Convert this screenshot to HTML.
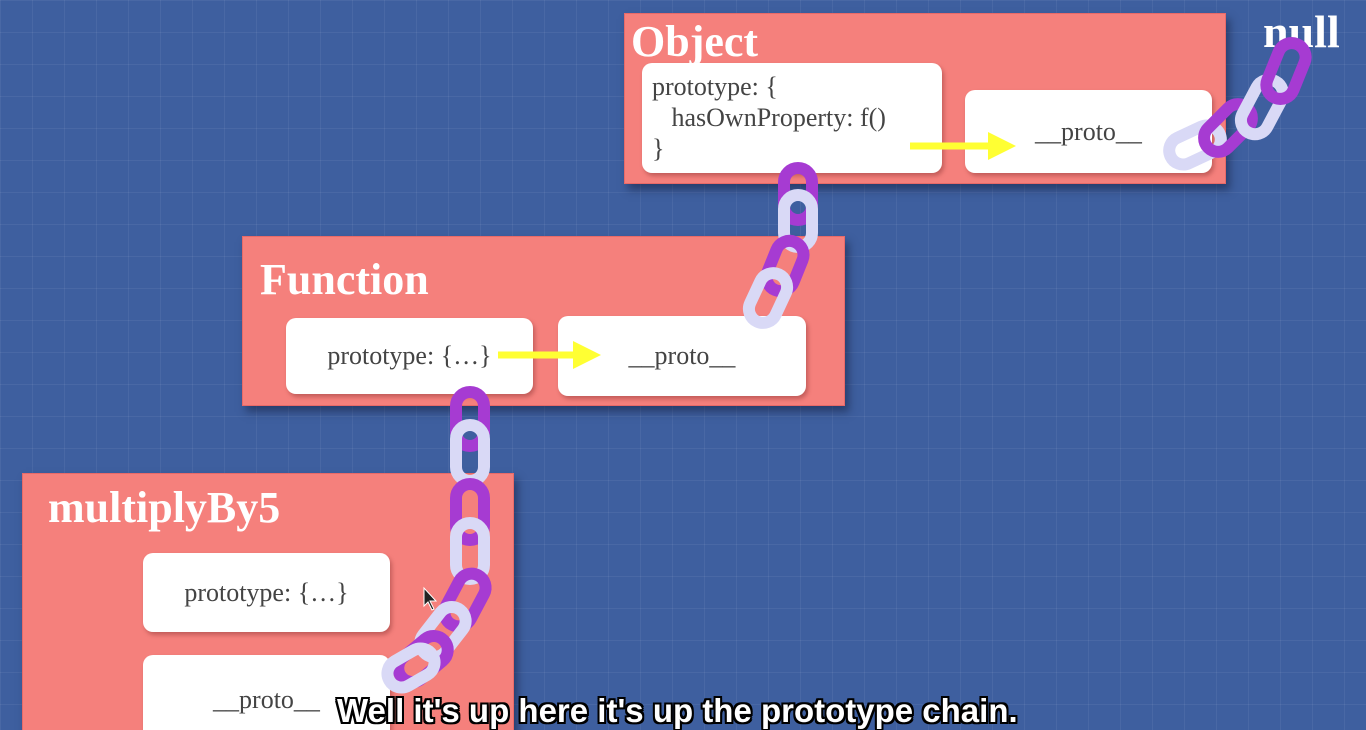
<!DOCTYPE html>
<html><head><style>
html,body{margin:0;padding:0;width:1366px;height:730px;overflow:hidden;}
body{position:relative;background-color:#3e5f9f;
background-image:linear-gradient(rgba(255,255,255,0.06) 1px,transparent 1px),linear-gradient(90deg,rgba(255,255,255,0.06) 1px,transparent 1px);
background-size:32px 32px;font-family:"Liberation Serif",serif;}
.panel{position:absolute;background:#f5807c;box-shadow:4px 6px 8px rgba(20,30,60,0.5);border:1px solid #e86a68;}
.title{position:absolute;color:#fff;font-size:44px;line-height:44px;font-weight:bold;}
.card{position:absolute;background:#fff;border-radius:10px;color:#444;font-size:26px;box-shadow:2px 3px 4px rgba(120,40,40,0.4);}
.c{display:flex;align-items:center;justify-content:center;}
.sub{position:absolute;left:337px;top:692px;font-family:"Liberation Sans",sans-serif;font-weight:bold;font-size:33px;color:#fff;
text-shadow:-2px -2px 0 #000,2px -2px 0 #000,-2px 2px 0 #000,2px 2px 0 #000,0 2px 0 #000,0 -2px 0 #000,2px 0 0 #000,-2px 0 0 #000;white-space:nowrap;}
svg{position:absolute;left:0;top:0;}
</style></head><body>
<div class="panel" style="left:624px;top:13px;width:600px;height:169px"></div>
<div class="title" style="left:631px;top:20px">Object</div>
<div class="card" style="left:642px;top:63px;width:300px;height:110px;padding:8px 10px;box-sizing:border-box;line-height:31px">prototype: {<br>&nbsp;&nbsp;&nbsp;hasOwnProperty: f()<br>}</div>
<div class="card c" style="left:965px;top:90px;width:247px;height:83px">__proto__</div>

<div class="panel" style="left:242px;top:236px;width:601px;height:168px"></div>
<div class="title" style="left:260px;top:258px">Function</div>
<div class="card c" style="left:286px;top:318px;width:247px;height:76px">prototype: {…}</div>
<div class="card c" style="left:558px;top:316px;width:248px;height:80px">__proto__</div>

<div class="panel" style="left:22px;top:473px;width:490px;height:270px"></div>
<div class="title" style="left:48px;top:486px">multiplyBy5</div>
<div class="card c" style="left:143px;top:553px;width:247px;height:79px">prototype: {…}</div>
<div class="card c" style="left:143px;top:655px;width:247px;height:90px">__proto__</div>

<div class="title" style="left:1263px;top:10px;font-size:46px">null</div>

<svg width="1366" height="730" viewBox="0 0 1366 730">
<defs>
<marker id="ah" markerWidth="4" markerHeight="4" refX="1" refY="2" orient="auto"><path d="M0,0 L4,2 L0,4z" fill="#ffff33"/></marker>
</defs>
<line x1="910" y1="146" x2="995" y2="146" stroke="#ffff33" stroke-width="7" marker-end="url(#ah)"/>
<line x1="498" y1="355" x2="580" y2="355" stroke="#ffff33" stroke-width="7" marker-end="url(#ah)"/>
<g fill="none" stroke-width="12">
<rect x="784" y="168" width="28" height="52" rx="14" stroke="#a63bd2"/>
<rect x="784" y="195" width="28" height="52" rx="14" stroke="#d9d9f6"/>
<rect x="771" y="240" width="28" height="52" rx="14" stroke="#a63bd2" transform="rotate(22 785 266)"/>
<rect x="754" y="272" width="28" height="52" rx="14" stroke="#d9d9f6" transform="rotate(25 768 298)"/>

<rect x="456" y="392" width="28" height="54" rx="14" stroke="#a63bd2"/>
<rect x="456" y="425" width="28" height="56" rx="14" stroke="#d9d9f6"/>
<rect x="456" y="484" width="28" height="56" rx="14" stroke="#a63bd2"/>
<rect x="456" y="523" width="28" height="56" rx="14" stroke="#d9d9f6"/>
<rect x="451" y="572" width="28" height="56" rx="14" stroke="#a63bd2" transform="rotate(28 465 600)"/>
<rect x="429" y="604" width="28" height="56" rx="14" stroke="#d9d9f6" transform="rotate(38 443 632)"/>
<rect x="409" y="631" width="28" height="56" rx="14" stroke="#a63bd2" transform="rotate(50 423 659)"/>
<rect x="397" y="643" width="28" height="50" rx="14" stroke="#d9d9f6" transform="rotate(60 411 668)"/>

<rect x="1181" y="118" width="28" height="54" rx="14" stroke="#d9d9f6" transform="rotate(65 1195 145)"/>
<rect x="1214" y="100" width="28" height="56" rx="14" stroke="#a63bd2" transform="rotate(45 1228 128)"/>
<rect x="1248" y="78" width="28" height="58" rx="14" stroke="#d9d9f6" transform="rotate(28 1262 107)"/>
<rect x="1272" y="42" width="28" height="58" rx="14" stroke="#a63bd2" transform="rotate(22 1286 71)"/>
</g>
<path d="M424,588 l0,18 l4,-4 l4,8 l2,-1 l-4,-8 l6,0z" fill="#222" stroke="#fff" stroke-width="1"/>
</svg>
<div class="sub">Well it's up here it's up the prototype chain.</div>
</body></html>
